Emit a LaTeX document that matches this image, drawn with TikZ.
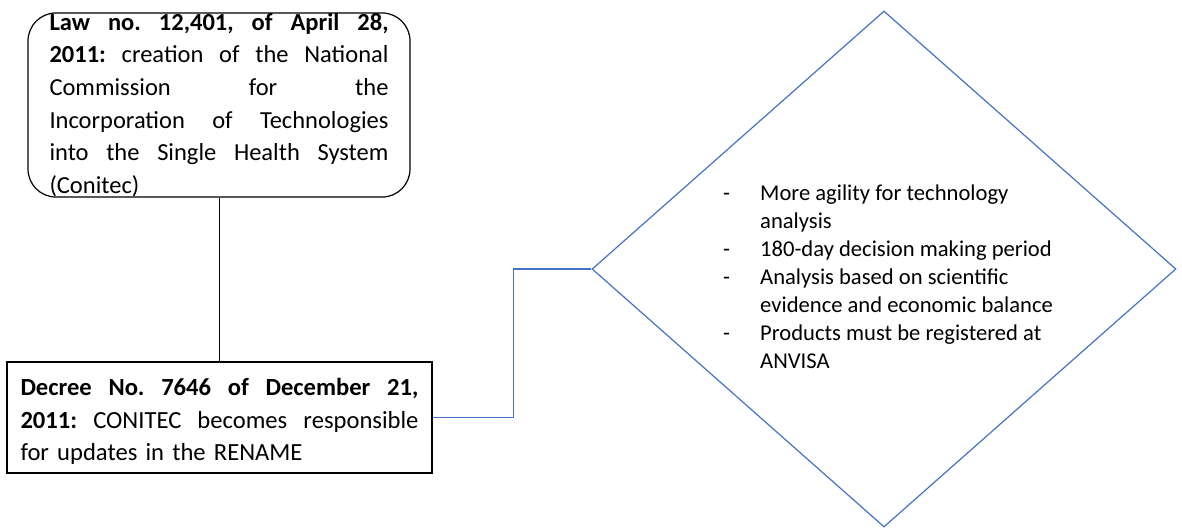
\documentclass[tikz,border=0pt]{standalone}
\usepackage{fontspec}
\setmainfont{Carlito}
\usepackage{tikz}
\usetikzlibrary{shapes.geometric}
\definecolor{wordblue}{HTML}{4472C4}
\newcommand{\jline}[1]{\noindent\hbox to \hsize{\spaceskip=0.226em plus 1fil\relax #1}\par}
\frenchspacing

\begin{document}
\begin{tikzpicture}[x=1pt,y=-1pt]
\useasboundingbox (0,0) rectangle (1182,528);
\begin{scope}[every node/.style={draw=black,line width=1.2pt,align=left,inner ysep=0pt}]
    \node (law)[rounded corners=28pt, text width=339pt, inner xsep=21.5pt, minimum width=382pt, minimum height=184pt, font=\fontsize{24.5}{32.7}\selectfont] at (219,105)
        {\jline{\textbf{Law no. 12,401, of April 28,}}\jline{\textbf{2011:} creation of the National}\jline{Commission for the}\jline{Incorporation of Technologies}\jline{into the Single Health System}\noindent(Conitec)};
    \node (decree)[text width=398pt, inner xsep=13.5pt, minimum height=111pt, font=\fontsize{24.6}{32.5}\selectfont] at (219.5,417.5)
        {\jline{\rule{0pt}{25pt}\textbf{Decree No. 7646 of December 21,}}\jline{\textbf{2011:} CONITEC becomes responsible}\noindent for updates in the RENAME};
\end{scope}

\node (ctec)[diamond, draw=wordblue, line width=1.2pt, minimum width=584pt, minimum height=516pt, inner sep=0pt] at (884,269) {};
\node (gains)[anchor=north west, inner sep=0pt, font=\fontsize{22.6}{28}\selectfont] at (723,180.4)
    {\begin{tabular}{@{}p{37pt}@{}l@{}}
     - & More agility for technology\\
       & analysis\\
     - & 180-day decision making period\\
     - & Analysis based on scientific\\
       & evidence and economic balance\\
     - & Products must be registered at\\
       & ANVISA
     \end{tabular}};

\draw[line width=1pt] (law.south) -- (law.south |- decree.north);
\draw[wordblue, line width=1.3pt] (decree.east) -- ++(81,0) |- (ctec.west);
\end{tikzpicture}
\end{document}
